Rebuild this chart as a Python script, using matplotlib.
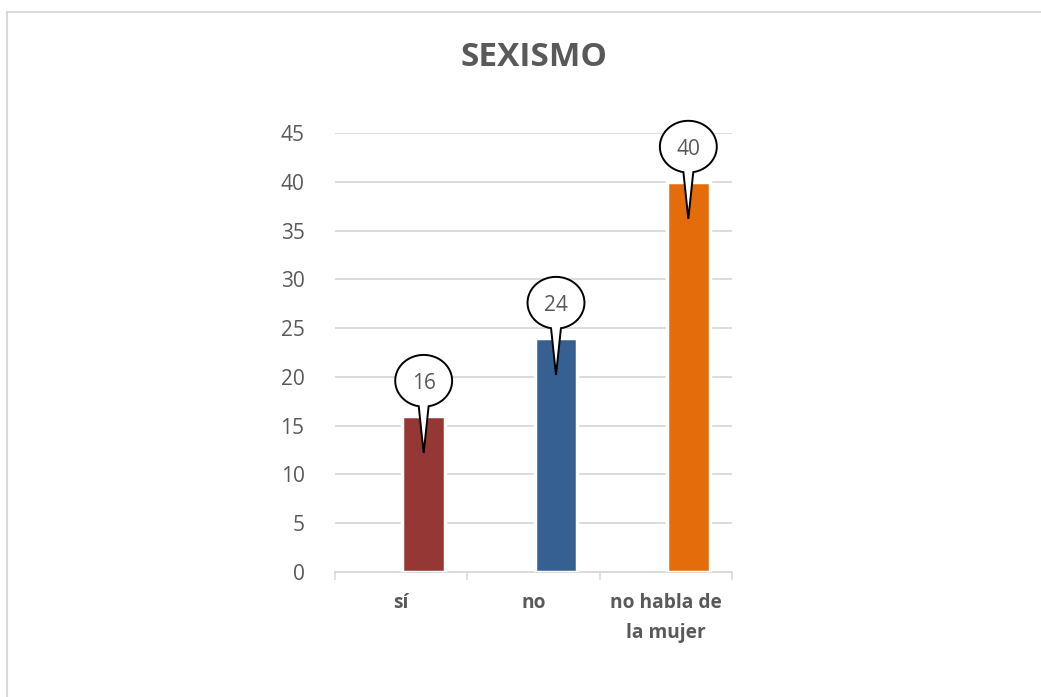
import numpy as np
import matplotlib.pyplot as plt
from matplotlib.patches import Polygon, Rectangle

# -----------------------------
# Data
# -----------------------------
categories = ["sí", "no", "no habla de\nla mujer"]
values = [16, 24, 40]
colors = ["#953735", "#376092", "#E46C0A"]
y_ticks = [0, 5, 10, 15, 20, 25, 30, 35, 40, 45]

plt.rcParams["font.family"] = ["Open Sans", "DejaVu Sans"]

W, H = 1041, 697
fig = plt.figure(figsize=(W / 100, H / 100), dpi=100)

# chart area border (only top/left visible in the crop)
fig.patches.append(Rectangle((7 / W, -0.1), 1.2, (H - 12) / H + 0.1,
                             transform=fig.transFigure, fill=False,
                             edgecolor="#D9D9D9", linewidth=1.5))

# axes placement in pixels
x0, x1 = 335, 732
y0, y1 = 572, 133
ax = fig.add_axes([x0 / W, 1 - y0 / H, (x1 - x0) / W, (y0 - y1) / H])

offset = 0.17
xpos = np.arange(len(categories)) + offset
ax.bar(xpos, values, width=0.32, color=colors, edgecolor="white",
       linewidth=2.5, zorder=3)

ax.set_xlim(-0.5, len(categories) - 0.5)
ax.set_ylim(0, 45)
ax.set_yticks(y_ticks)
ax.set_yticklabels([str(t) for t in y_ticks], fontsize=15, color="#595959")
ax.set_xticks(np.arange(len(categories)))
ax.set_xticklabels(categories, fontsize=13.8, fontweight="bold", color="#595959",
                   linespacing=1.65)
ax.tick_params(axis="y", length=0, pad=22)
ax.tick_params(axis="x", length=0, pad=15)
ax.set_xticks(np.arange(len(categories) + 1) - 0.5, minor=True)
ax.tick_params(axis="x", which="minor", length=6, color="#D9D9D9", width=1.2)

ax.grid(axis="y", color="#D9D9D9", linewidth=1.3, zorder=0)
for s in ["top", "right", "left"]:
    ax.spines[s].set_visible(False)
ax.spines["bottom"].set_color("#D9D9D9")
ax.spines["bottom"].set_linewidth(1.3)

# callouts: ellipse with a tail pointing into the bar
ew, eh = 0.43, 5.3   # ellipse size in data units
for xv, v in zip(xpos, values):
    cx, cy = xv, v + 3.6
    tip = (xv, v - 3.8)
    theta = np.radians(np.linspace(-80, 260, 120))
    pts = np.column_stack([cx + ew / 2 * np.cos(theta),
                           cy + eh / 2 * np.sin(theta)])
    pts = np.vstack([pts, tip])
    ax.add_patch(Polygon(pts, closed=True, facecolor="white",
                         edgecolor="black", linewidth=1.4, zorder=5,
                         clip_on=False))
    ax.text(cx, cy - 0.3, f"{v}", ha="center", va="center", fontsize=15,
            color="#595959", zorder=6)

fig.text((x0 + x1) / 2 / W, 1 - 57 / H, "SEXISMO", ha="center", va="center",
         fontsize=24, fontweight="bold", color="#595959")

plt.savefig("out.png", dpi=100)
